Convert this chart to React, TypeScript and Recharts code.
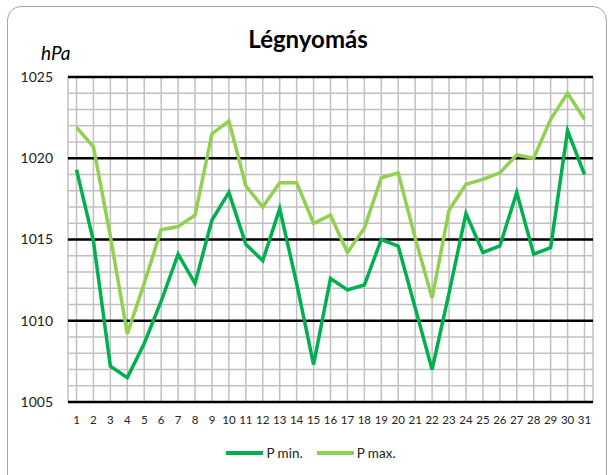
import { CartesianGrid, Line, LineChart, ReferenceLine, XAxis, YAxis } from 'recharts';

const days = [
  '1', '2', '3', '4', '5', '6', '7', '8', '9', '10', '11', '12', '13', '14', '15', '16',
  '17', '18', '19', '20', '21', '22', '23', '24', '25', '26', '27', '28', '29', '30', '31',
];

const pMin = [
  1019.3, 1014.9, 1007.2, 1006.5, 1008.6, 1011.2, 1014.1, 1012.3, 1016.2, 1017.9, 1014.7,
  1013.7, 1016.9, 1012.3, 1007.3, 1012.6, 1011.9, 1012.2, 1015.0, 1014.6, 1010.8, 1007.0,
  1011.7, 1016.6, 1014.2, 1014.6, 1017.9, 1014.1, 1014.5, 1021.7, 1019.0,
];

const pMax = [
  1021.9, 1020.7, 1015.2, 1009.2, 1012.3, 1015.6, 1015.8, 1016.5, 1021.5, 1022.3, 1018.3,
  1017.0, 1018.5, 1018.5, 1016.0, 1016.5, 1014.2, 1015.7, 1018.8, 1019.1, 1015.1, 1011.4,
  1016.8, 1018.4, 1018.7, 1019.1, 1020.2, 1020.0, 1022.4, 1024.0, 1022.4,
];

const yTicks = [
  1005, 1006, 1007, 1008, 1009, 1010, 1011, 1012, 1013, 1014, 1015,
  1016, 1017, 1018, 1019, 1020, 1021, 1022, 1023, 1024, 1025,
];
const majorTicks = [1005, 1010, 1015, 1020, 1025];

const series = [
  { key: 'min', name: 'P min.', color: '#00b050' },
  { key: 'max', name: 'P max.', color: '#92d050' },
];

const data = days.map((day, i) => ({ day, min: pMin[i], max: pMax[i] }));

const font = 'Lato, "Open Sans", sans-serif';

export default function App() {
  return (
    <div style={{ position: 'absolute', left: 0, top: 0, width: 609, height: 475, overflow: 'hidden', background: '#fff', fontFamily: font }}>
      <div
        style={{
          position: 'absolute', left: 7, top: 6, width: 600, height: 490,
          border: '1.5px solid #a6a6a6', borderRadius: 14, boxSizing: 'border-box',
        }}
      />
      <div style={{ position: 'absolute', left: 0, width: 616, top: 24, textAlign: 'center', fontSize: 24, fontWeight: 700, color: '#000' }}>
        Légnyomás
      </div>
      <div style={{ position: 'absolute', left: 41, top: 41, fontSize: 19, fontStyle: 'italic', color: '#000' }}>hPa</div>

      <div style={{ position: 'absolute', left: 0, top: 0 }}>
        <LineChart width={609} height={475} data={data} margin={{ top: 77, right: 16, bottom: 43, left: 18 }}>
          <CartesianGrid stroke="#c0c0c0" strokeWidth={1.5} />
          <XAxis
            dataKey="day"
            height={30}
            padding={{ left: 8.5, right: 8.5 }}
            axisLine={false}
            tickLine={false}
            tickSize={0}
            tickMargin={14}
            interval={0}
            tick={{ fontSize: 11.5, fill: '#222', fontFamily: font }}
          />
          <YAxis
            width={50}
            domain={[1005, 1025]}
            ticks={yTicks}
            interval={0}
            axisLine={false}
            tickLine={false}
            tickSize={0}
            tickMargin={15}
            tickFormatter={(v: number) => (v % 5 === 0 ? String(v) : '')}
            tick={{ fontSize: 14, fill: '#222', fontFamily: font }}
          />
          {majorTicks.map((v) => (
            <ReferenceLine key={v} y={v} stroke="#000" strokeWidth={2.5} />
          ))}
          {series.map((s) => (
            <Line
              key={s.key}
              type="linear"
              dataKey={s.key}
              name={s.name}
              stroke={s.color}
              strokeWidth={3.5}
              dot={false}
              activeDot={false}
              isAnimationActive={false}
            />
          ))}
        </LineChart>
      </div>

      <div style={{ position: 'absolute', left: 0, width: 622, top: 445, display: 'flex', justifyContent: 'center', gap: 14, fontSize: 13.5, color: '#222' }}>
        {series.map((s) => (
          <div key={s.key} style={{ display: 'flex', alignItems: 'center', gap: 3 }}>
            <span style={{ display: 'inline-block', width: 37, height: 3.5, background: s.color }} />
            <span>{s.name}</span>
          </div>
        ))}
      </div>
    </div>
  );
}
